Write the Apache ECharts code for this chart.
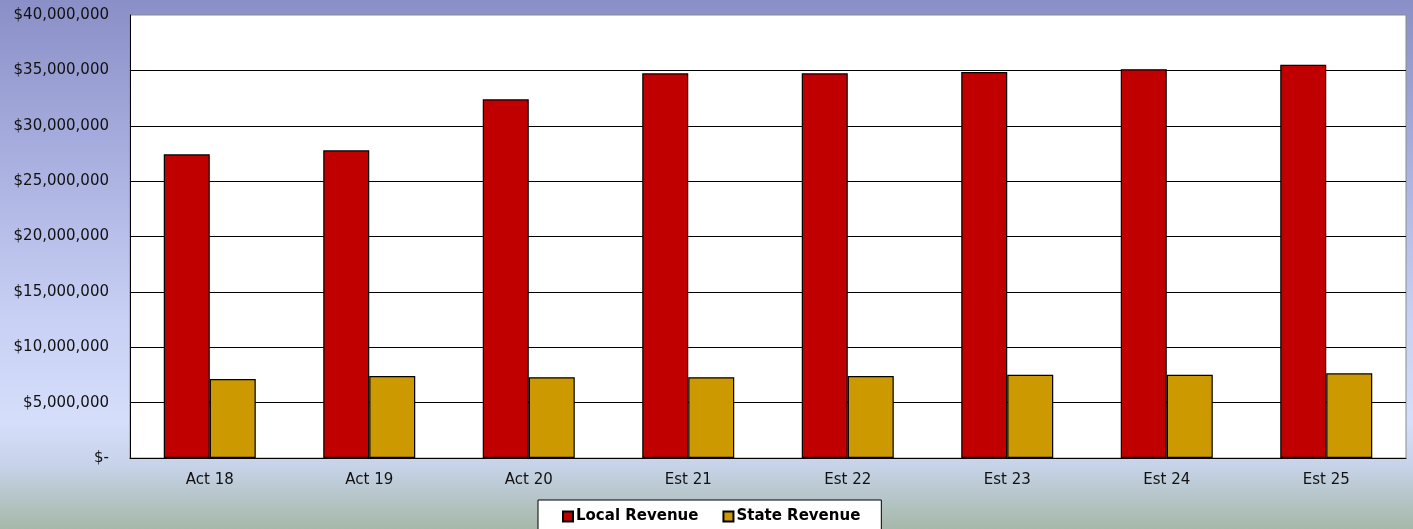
<!DOCTYPE html>
<html>
<head>
<meta charset="utf-8">
<script src="https://cdn.jsdelivr.net/npm/echarts@6/dist/echarts.min.js"></script>
<style>
  html, body { margin: 0; padding: 0; }
  #chart { width: 1413px; height: 529px; }
</style>
</head>
<body>
<div id="chart"></div>
<script>
// categories and values
const years = ['Act 18', 'Act 19', 'Act 20', 'Est 21', 'Est 22', 'Est 23', 'Est 24', 'Est 25']
const localRevenue = [27420000, 27780000, 32390000, 34730000, 34730000, 34850000, 35100000, 35500000]
const stateRevenue = [7130000, 7400000, 7290000, 7290000, 7400000, 7520000, 7520000, 7650000]

const font = 'Verdana, "DejaVu Sans", sans-serif'

function money (v) {
  if (v === 0) return '$-'
  return '$' + v.toLocaleString('en-US')
}

const myChart = echarts.init(document.getElementById('chart'))
myChart.setOption({
  animation: false,
  backgroundColor: {
    type: 'linear', x: 0, y: 0, x2: 0, y2: 1,
    colorStops: [
      { offset: 0, color: '#8a8fc7' },
      { offset: 0.3, color: '#a9afdf' },
      { offset: 0.6, color: '#c8d0f4' },
      { offset: 0.8, color: '#d5defa' },
      { offset: 0.88, color: '#c7d3e9' },
      { offset: 1, color: '#a5b8a9' }
    ]
  },
  textStyle: { fontFamily: font },
  grid: {
    left: 130, right: 7, top: 15, bottom: 71,
    show: true,
    backgroundColor: '#fff',
    borderColor: '#8c8c8c',
    borderWidth: 1
  },
  legend: {
    data: ['Local Revenue', 'State Revenue'],
    left: 538,
    top: 500,
    padding: [9, 21, 20, 24],
    backgroundColor: '#fff',
    borderColor: '#000',
    borderWidth: 1,
    borderRadius: 0,
    icon: 'rect',
    itemWidth: 10,
    itemHeight: 10,
    itemGap: 24,
    textStyle: { fontFamily: font, fontSize: 15, fontWeight: 'bold', color: '#000', padding: [0, 0, 0, -2] }
  },
  xAxis: {
    type: 'category',
    data: years,
    axisLine: { lineStyle: { color: '#000', width: 1 } },
    axisTick: { show: false },
    axisLabel: { color: '#111', fontSize: 15, margin: 15 }
  },
  yAxis: {
    type: 'value',
    min: 0,
    max: 40000000,
    interval: 5000000,
    axisLine: { show: true, lineStyle: { color: '#000', width: 1 } },
    axisTick: { show: false },
    axisLabel: { color: '#111', fontSize: 15, margin: 21, formatter: money },
    splitLine: { showMaxLine: false, lineStyle: { color: '#000', width: 1 } }
  },
  series: [{
    name: 'Local Revenue',
    type: 'bar',
    data: localRevenue,
    barWidth: 46,
    barGap: '0%',
    itemStyle: { color: '#c00000', borderColor: '#000', borderWidth: 1.2 }
  }, {
    name: 'State Revenue',
    type: 'bar',
    data: stateRevenue,
    barWidth: 46,
    barGap: '0%',
    itemStyle: { color: '#cc9900', borderColor: '#000', borderWidth: 1.2 }
  }]
})
</script>
</body>
</html>
